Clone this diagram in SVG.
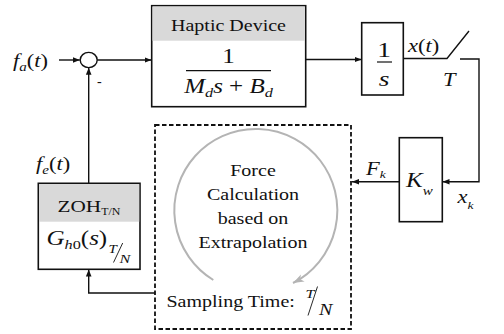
<svg xmlns="http://www.w3.org/2000/svg" width="504" height="334" viewBox="0 0 504 334" font-family="'Liberation Serif', 'DejaVu Serif', serif">
<style>
text{font-family:'Liberation Serif','DejaVu Serif',serif;fill:#111}
.i{font-style:italic}
.box{fill:#fff;stroke:#111;stroke-width:1.6}
.hdr{fill:#d9d9d9;stroke:none}
.ln{fill:none;stroke:#111;stroke-width:1.4}
.dash{fill:none;stroke:#111;stroke-width:1.8;stroke-dasharray:4.5 2.5}
.arc{fill:none;stroke:#b4b4b4;stroke-width:2}
</style>
<defs>
<marker id="ah" markerUnits="userSpaceOnUse" markerWidth="8" markerHeight="8" refX="7" refY="4" orient="auto">
<path d="M0,1.2 L7,4 L0,6.8 Z" fill="#111"/>
</marker>
<marker id="ag" markerUnits="userSpaceOnUse" markerWidth="12" markerHeight="10" refX="11" refY="5" orient="auto">
<path d="M0,1 L11,5 L0,9 L3,5 Z" fill="#b4b4b4"/>
</marker>
</defs>

<g id="connectors">
<path class="ln" d="M59,60 H79.8" marker-end="url(#ah)"/>
<path class="ln" d="M97.2,60 H151.5" marker-end="url(#ah)"/>
<path class="ln" d="M305.7,59.5 H361.5" marker-end="url(#ah)"/>
<path class="ln" d="M403.3,58.5 H447 L469,31"/>
<path class="ln" d="M460,59 H479 V181.7 H442.5" marker-end="url(#ah)"/>
<path class="ln" d="M399.3,181.7 H352" marker-end="url(#ah)"/>
<path class="ln" d="M155,293 H88.7 V269.5" marker-end="url(#ah)"/>
<path class="ln" d="M88.7,183.3 V67.7" marker-end="url(#ah)"/>
</g>

<g id="sum">
<ellipse cx="88.7" cy="60" rx="8.5" ry="7.6" fill="#fff" stroke="#111" stroke-width="1.4"/>
<text x="97" y="86" font-size="14">-</text>
</g>

<g id="fa-label">
<text transform="translate(13,67) scale(1.25,1)" font-size="18"><tspan class="i">f</tspan><tspan class="i" font-size="12" dy="4">a</tspan><tspan dy="-4">(</tspan><tspan class="i">t</tspan>)</text>
</g>

<g id="haptic">
<rect class="box" x="151.7" y="5.7" width="154" height="101"/>
<rect class="hdr" x="152.5" y="6.5" width="152.4" height="34.2"/>
<text transform="translate(228.5,31) scale(1.25,1)" font-size="16" text-anchor="middle">Haptic Device</text>
<text transform="translate(228.5,63) scale(1.25,1)" font-size="20" text-anchor="middle">1</text>
<line x1="186" y1="70.7" x2="271" y2="70.7" stroke="#111" stroke-width="1.3"/>
<text transform="translate(228.5,92.7) scale(1.25,1)" font-size="20" text-anchor="middle"><tspan class="i">M</tspan><tspan class="i" font-size="13" dy="4">d</tspan><tspan class="i" dy="-4">s</tspan> + <tspan class="i">B</tspan><tspan class="i" font-size="13" dy="4">d</tspan></text>
</g>

<g id="integrator">
<rect class="box" x="361.7" y="22.7" width="41.6" height="72.3"/>
<text transform="translate(384,57) scale(1.25,1)" font-size="22" text-anchor="middle">1</text>
<line x1="377" y1="62" x2="392" y2="62" stroke="#111" stroke-width="1.2"/>
<text class="i" transform="translate(384,86) scale(1.25,1)" font-size="22" text-anchor="middle">s</text>
</g>

<g id="switch-labels">
<text transform="translate(408,52) scale(1.25,1)" font-size="18"><tspan class="i">x</tspan>(<tspan class="i">t</tspan>)</text>
<text class="i" transform="translate(443,85.5) scale(1.25,1)" font-size="18">T</text>
</g>

<g id="kw">
<rect class="box" x="399.3" y="137.7" width="43" height="84"/>
<text transform="translate(406,187) scale(1.25,1)" font-size="20"><tspan class="i">K</tspan><tspan class="i" font-size="12" dy="8">w</tspan></text>
<text transform="translate(366,175) scale(1.25,1)" font-size="18"><tspan class="i">F</tspan><tspan class="i" font-size="11" dy="3">k</tspan></text>
<text transform="translate(457.5,203.3) scale(1.25,1)" font-size="18"><tspan class="i">x</tspan><tspan class="i" font-size="11" dy="6">k</tspan></text>
</g>

<g id="force-calc">
<rect class="dash" x="155" y="125" width="196" height="204"/>
<path class="arc" d="M213.3,280 A81.5,81.5 0 1 1 293,283" marker-end="url(#ag)"/>
<text transform="translate(253,175.5) scale(1.25,1)" font-size="16" text-anchor="middle">Force</text>
<text transform="translate(253,200) scale(1.25,1)" font-size="16" text-anchor="middle">Calculation</text>
<text transform="translate(253,224) scale(1.25,1)" font-size="16" text-anchor="middle">based on</text>
<text transform="translate(253,248) scale(1.25,1)" font-size="16" text-anchor="middle">Extrapolation</text>
<text transform="translate(166.5,307) scale(1.25,1)" font-size="16">Sampling Time:</text>
<text class="i" transform="translate(305.5,298) scale(1.25,1)" font-size="13">T</text>
<line x1="317.5" y1="286.5" x2="308" y2="315.5" stroke="#111" stroke-width="0.9"/>
<text class="i" transform="translate(319,315) scale(1.25,1)" font-size="16">N</text>
</g>

<g id="zoh">
<rect class="box" x="38.3" y="183.3" width="101.7" height="86"/>
<rect class="hdr" x="39.1" y="184.1" width="100.1" height="37.6"/>
<text transform="translate(57.5,212) scale(1.25,1)" font-size="17">ZOH<tspan font-size="9.5" dy="3">T/N</tspan></text>
<text transform="translate(46.5,245) scale(1.25,1)" font-size="20"><tspan class="i">G</tspan><tspan font-size="13" dy="4"><tspan class="i">h</tspan>0</tspan><tspan dy="-4">(</tspan><tspan class="i">s</tspan>)</text>
<text class="i" transform="translate(108.5,252.5) scale(1.25,1)" font-size="12">T</text>
<line x1="122.7" y1="243" x2="113.5" y2="262.5" stroke="#111" stroke-width="0.9"/>
<text class="i" transform="translate(119.5,263) scale(1.25,1)" font-size="13">N</text>
<text transform="translate(36,170) scale(1.25,1)" font-size="18"><tspan class="i">f</tspan><tspan class="i" font-size="12" dy="4">e</tspan><tspan dy="-4">(</tspan><tspan class="i">t</tspan>)</text>
</g>
</svg>
